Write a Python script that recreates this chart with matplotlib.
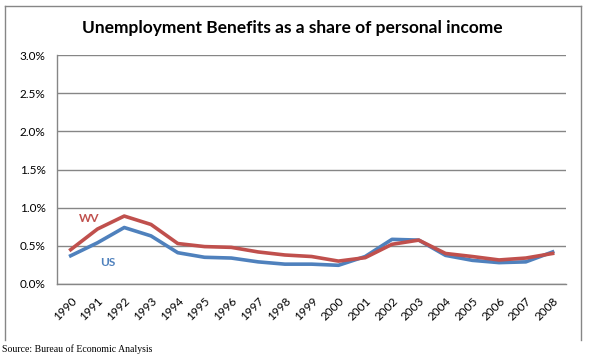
import matplotlib
matplotlib.use("Agg")
import matplotlib.pyplot as plt
from matplotlib.lines import Line2D
from matplotlib.ticker import FuncFormatter

years = [str(y) for y in range(1990, 2009)]
wv = [0.45, 0.72, 0.89, 0.78, 0.53, 0.49, 0.48, 0.42, 0.38, 0.36, 0.30, 0.345,
      0.52, 0.575, 0.40, 0.36, 0.315, 0.34, 0.40]
us = [0.37, 0.54, 0.74, 0.63, 0.41, 0.35, 0.34, 0.29, 0.26, 0.26, 0.245, 0.36,
      0.585, 0.575, 0.375, 0.31, 0.28, 0.29, 0.42]
yticks = [0.0, 0.5, 1.0, 1.5, 2.0, 2.5, 3.0]

W, H = 591, 358
fig = plt.figure(figsize=(W / 100, H / 100), dpi=100)
plt.rcParams['font.family'] = ['Lato', 'DejaVu Sans']

left, right, top, bottom = 57.3, 566, 55, 284
ax = fig.add_axes([left / W, 1 - bottom / H, (right - left) / W, (bottom - top) / H])

red = '#C0504D'
blue = '#4F81BD'
x = list(range(len(years)))
ax.plot(x, us, color=blue, lw=2.6, solid_joinstyle='round')
ax.plot(x, wv, color=red, lw=2.6, solid_joinstyle='round')

ax.set_xlim(-0.5, len(years) - 0.5)
ax.set_ylim(0, 3.0)
ax.set_yticks(yticks)
ax.yaxis.set_major_formatter(FuncFormatter(lambda v, p: f"{v:.1f}%"))
ax.set_xticks(x)
ax.set_xticklabels(years, rotation=45, ha='right', va='top', rotation_mode='anchor',
                   fontsize=8.5)
ax.tick_params(axis='x', length=0, pad=8)
ax.tick_params(axis='y', length=0, pad=8.5, labelsize=8.5)
ax.grid(axis='y', color='#868686', lw=1)
ax.set_axisbelow(True)
for s in ['top', 'right']:
    ax.spines[s].set_visible(False)
for s in ['left', 'bottom']:
    ax.spines[s].set_color('#868686')
    ax.spines[s].set_linewidth(1)

ax.text(0.7, 0.86, 'WV', color=red, fontsize=8.5, fontweight='bold', ha='center', va='center')
ax.text(1.4, 0.28, 'US', color=blue, fontsize=8.5, fontweight='bold', ha='center', va='center')

fig.text(292 / W, 1 - 28 / H, 'Unemployment Benefits as a share of personal income',
         ha='center', va='center', fontsize=12.5, fontweight='bold')
fig.text(2 / W, 1 - 349 / H, 'Source: Bureau of Economic Analysis', ha='left', va='center',
         fontsize=7, family=['Liberation Serif'])

# chart border (left, top, right)
bc = '#868686'
fig.add_artist(Line2D([4.5 / W, 4.5 / W], [1 - 340 / H, 1 - 6 / H], color=bc, lw=1, transform=fig.transFigure))
fig.add_artist(Line2D([4.5 / W, 580.5 / W], [1 - 6 / H, 1 - 6 / H], color=bc, lw=1, transform=fig.transFigure))
fig.add_artist(Line2D([580.5 / W, 580.5 / W], [1 - 6 / H, 1 - 340 / H], color=bc, lw=1, transform=fig.transFigure))

fig.savefig('out.png', dpi=100)
